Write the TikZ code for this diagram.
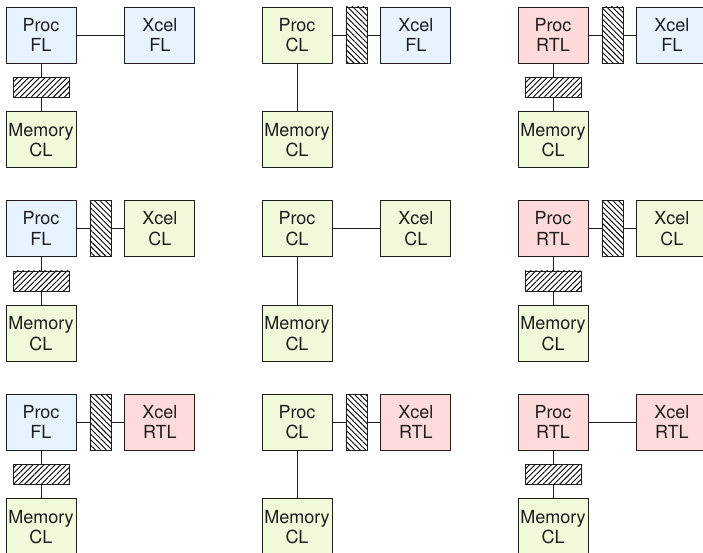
\documentclass[tikz,border=0pt]{standalone}
\usepackage{fontspec}
\setmainfont{TeX Gyre Heros}
\usepackage{xcolor}
\definecolor{flc}{RGB}{231,244,255}
\definecolor{clc}{RGB}{240,250,218}
\definecolor{rtlc}{RGB}{255,218,218}
\definecolor{edge}{RGB}{30,30,30}
\usetikzlibrary{positioning,calc,patterns.meta}

\begin{document}
\begin{tikzpicture}[
  font=\fontsize{18}{20.5}\selectfont,
  box/.style={draw=edge, line width=0.9pt, align=center, inner sep=0pt, minimum width=70pt, minimum height=56pt, text=edge},
  fl/.style={box, fill=flc},
  cl/.style={box, fill=clc},
  rtl/.style={box, fill=rtlc},
  hadapt/.style={draw=edge, line width=0.9pt, inner sep=0pt, minimum width=56pt, minimum height=20pt,
    pattern={Lines[angle=45, distance=3.9pt, line width=0.9pt]}},
  vadapt/.style={draw=edge, line width=0.9pt, inner sep=0pt, minimum width=21pt, minimum height=56pt,
    pattern={Lines[angle=-45, distance=3.9pt, line width=0.9pt]}},
  link/.style={line width=0.9pt, edge},
  node distance=48pt]
\useasboundingbox (0,0) rectangle (703pt,-553pt);
% row 1
\node[fl] (p11) at (41pt,-35pt) {Proc\\FL};
\node[fl, right=of p11] (x11) {Xcel\\FL};
\node[cl, below=of p11] (m11) {Memory\\CL};
\node[hadapt] (h11) at ($(p11.south)!0.5!(m11.north)$) {};
\draw[link] (p11) -- (x11);
\draw[link] (p11) -- (h11) -- (m11);
\node[cl] (p12) at (297pt,-35pt) {Proc\\CL};
\node[fl, right=of p12] (x12) {Xcel\\FL};
\node[cl, below=of p12] (m12) {Memory\\CL};
\node[vadapt] (v12) at ($(p12.east)!0.5!(x12.west)$) {};
\draw[link] (p12) -- (v12) -- (x12);
\draw[link] (p12) -- (m12);
\node[rtl] (p13) at (553pt,-35pt) {Proc\\RTL};
\node[fl, right=of p13] (x13) {Xcel\\FL};
\node[cl, below=of p13] (m13) {Memory\\CL};
\node[vadapt] (v13) at ($(p13.east)!0.5!(x13.west)$) {};
\node[hadapt] (h13) at ($(p13.south)!0.5!(m13.north)$) {};
\draw[link] (p13) -- (v13) -- (x13);
\draw[link] (p13) -- (h13) -- (m13);
% row 2
\node[fl] (p21) at (41pt,-228.5pt) {Proc\\FL};
\node[cl, right=of p21] (x21) {Xcel\\CL};
\node[cl, below=of p21] (m21) {Memory\\CL};
\node[vadapt] (v21) at ($(p21.east)!0.5!(x21.west)$) {};
\node[hadapt] (h21) at ($(p21.south)!0.5!(m21.north)$) {};
\draw[link] (p21) -- (v21) -- (x21);
\draw[link] (p21) -- (h21) -- (m21);
\node[cl] (p22) at (297pt,-228.5pt) {Proc\\CL};
\node[cl, right=of p22] (x22) {Xcel\\CL};
\node[cl, below=of p22] (m22) {Memory\\CL};
\draw[link] (p22) -- (x22);
\draw[link] (p22) -- (m22);
\node[rtl] (p23) at (553pt,-228.5pt) {Proc\\RTL};
\node[cl, right=of p23] (x23) {Xcel\\CL};
\node[cl, below=of p23] (m23) {Memory\\CL};
\node[vadapt] (v23) at ($(p23.east)!0.5!(x23.west)$) {};
\node[hadapt] (h23) at ($(p23.south)!0.5!(m23.north)$) {};
\draw[link] (p23) -- (v23) -- (x23);
\draw[link] (p23) -- (h23) -- (m23);
% row 3
\node[fl] (p31) at (41pt,-422pt) {Proc\\FL};
\node[rtl, right=of p31] (x31) {Xcel\\RTL};
\node[cl, below=of p31] (m31) {Memory\\CL};
\node[vadapt] (v31) at ($(p31.east)!0.5!(x31.west)$) {};
\node[hadapt] (h31) at ($(p31.south)!0.5!(m31.north)$) {};
\draw[link] (p31) -- (v31) -- (x31);
\draw[link] (p31) -- (h31) -- (m31);
\node[cl] (p32) at (297pt,-422pt) {Proc\\CL};
\node[rtl, right=of p32] (x32) {Xcel\\RTL};
\node[cl, below=of p32] (m32) {Memory\\CL};
\node[vadapt] (v32) at ($(p32.east)!0.5!(x32.west)$) {};
\draw[link] (p32) -- (v32) -- (x32);
\draw[link] (p32) -- (m32);
\node[rtl] (p33) at (553pt,-422pt) {Proc\\RTL};
\node[rtl, right=of p33] (x33) {Xcel\\RTL};
\node[cl, below=of p33] (m33) {Memory\\CL};
\node[hadapt] (h33) at ($(p33.south)!0.5!(m33.north)$) {};
\draw[link] (p33) -- (x33);
\draw[link] (p33) -- (h33) -- (m33);
\end{tikzpicture}
\end{document}
